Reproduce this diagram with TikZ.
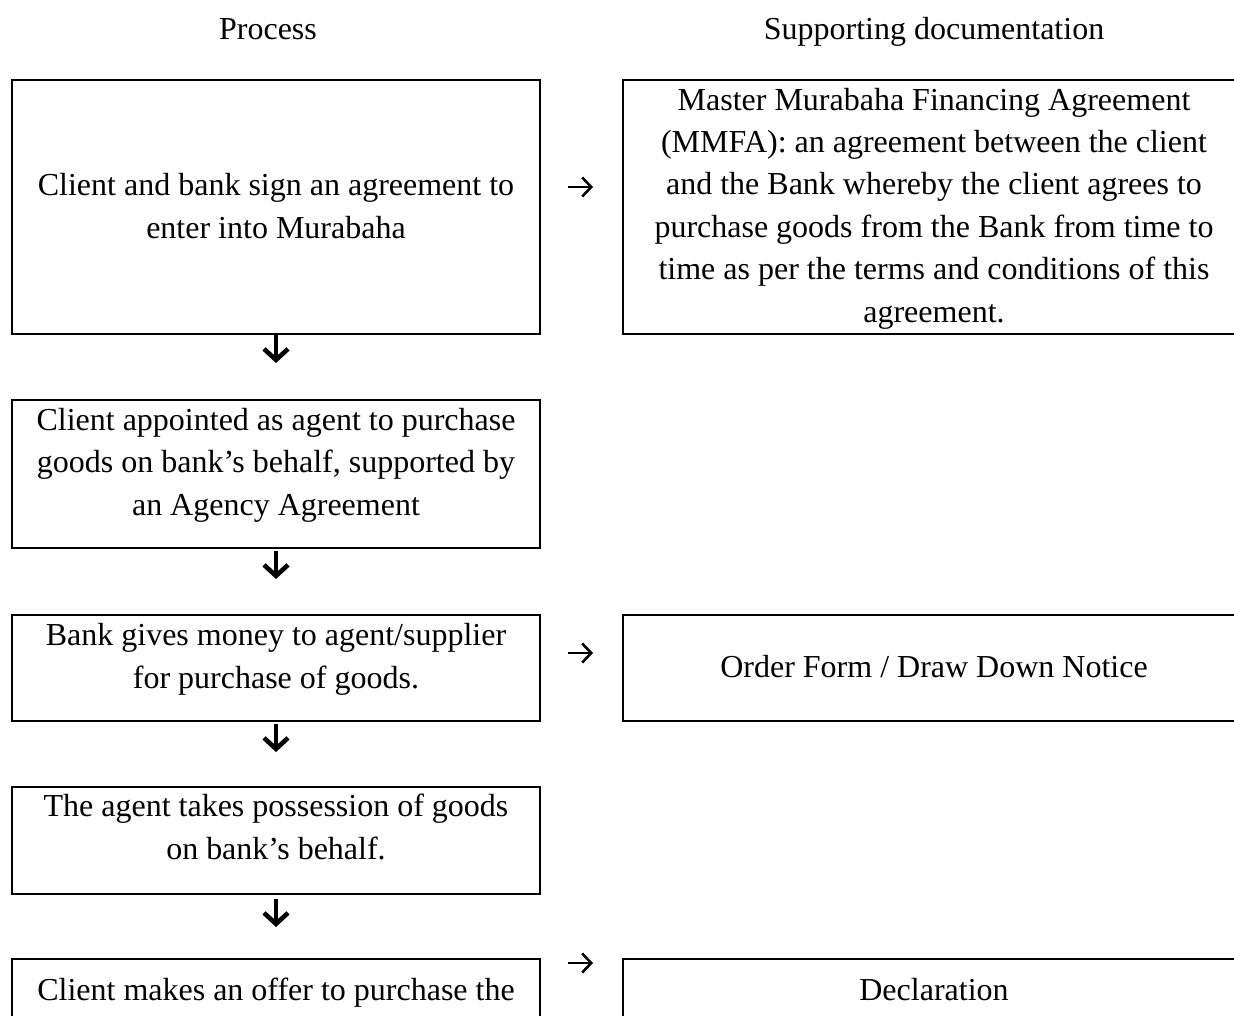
\documentclass[tikz,border=0pt]{standalone}
\usepackage{fontspec}
\setmainfont{Liberation Serif}
\usetikzlibrary{arrows.meta}

\begin{document}
\begin{tikzpicture}[x=1pt,y=-1pt,
  box/.style={draw, line width=2pt, inner sep=0pt, outer sep=0pt},
  txt/.style={font=\fontsize{32}{42.4}\selectfont, align=center, inner sep=0pt, anchor=base},
  downarrow/.style={line width=4.6pt, -{Straight Barb[length=11pt,width=24pt]}},
  sidearrow/.style={line width=2.6pt, -{Straight Barb[length=9pt,width=19pt]}}]
\useasboundingbox (0,0) rectangle (1234,1015);
\clip (0,0) rectangle (1234,1015);

% column headings
\node[txt] (hproc) at (268,39) {Process};
\node[txt] (hdoc) at (934,39) {Supporting documentation};

% process column (text nodes sit on the baseline of their last line)
\node[box, minimum width=528pt, minimum height=254pt] (p1) at (276,207) {};
\node[txt] (p1t) at (276,238) {Client and bank sign an agreement to\\enter into Murabaha};

\node[box, minimum width=528pt, minimum height=148pt] (p2) at (276,474) {};
\node[txt] (p2t) at (276,515) {Client appointed as agent to purchase\\goods on bank’s behalf, supported by\\an Agency Agreement};

\node[box, minimum width=528pt, minimum height=106pt] (p3) at (276,668) {};
\node[txt] (p3t) at (276,688) {Bank gives money to agent/supplier\\for purchase of goods.};

\node[box, minimum width=528pt, minimum height=107pt] (p4) at (276,840.5) {};
\node[txt] (p4t) at (276,859) {The agent takes possession of goods\\on bank’s behalf.};

\node[box, minimum width=528pt, minimum height=160pt] (p5) at (276,1039) {};
\node[txt] (p5t) at (276,1000) {Client makes an offer to purchase the};

% documentation column
\node[box, minimum width=622pt, minimum height=254pt] (s1) at (934,207) {};
\node[txt] (s1t) at (934,322) {Master Murabaha Financing Agreement\\(MMFA): an agreement between the client\\and the Bank whereby the client agrees to\\purchase goods from the Bank from time to\\time as per the terms and conditions of this\\agreement.};

\node[box, minimum width=622pt, minimum height=106pt] (s3) at (934,668) {};
\node[txt] (s3t) at (934,677) {Order Form / Draw Down Notice};

\node[box, minimum width=622pt, minimum height=160pt] (s5) at (934,1039) {};
\node[txt] (s5t) at (934,1000) {Declaration};

% flow between process steps
\draw[downarrow, shorten >=37pt] (p1.south) -- (p2.north);
\draw[downarrow, shorten <=3pt, shorten >=36pt] (p2.south) -- (p3.north);
\draw[downarrow, shorten <=3pt, shorten >=35pt] (p3.south) -- (p4.north);
\draw[downarrow, shorten <=5pt, shorten >=32pt] (p4.south) -- (p5.north);

% links to supporting documents
\draw[sidearrow, shorten <=28pt, shorten >=30pt] ([yshift=20pt]p1.east) -- ([yshift=20pt]s1.west);
\draw[sidearrow, shorten <=28pt, shorten >=30pt] ([yshift=15pt]p3.east) -- ([yshift=15pt]s3.west);
\draw[sidearrow, shorten <=28pt, shorten >=30pt] ([yshift=-4pt]p5.north east) -- ([yshift=-4pt]s5.north west);
\end{tikzpicture}
\end{document}
